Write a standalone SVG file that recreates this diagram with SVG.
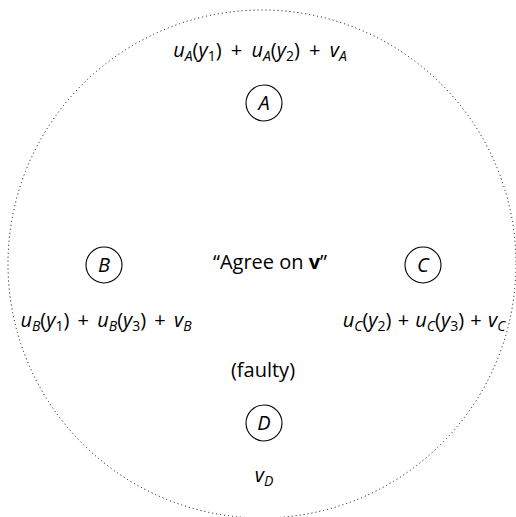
<svg xmlns="http://www.w3.org/2000/svg" width="516" height="517" viewBox="0 0 516 517">
<style>
.n{fill:none;stroke:#000;stroke-width:1.1}
.t{font-family:"Open Sans","DejaVu Sans",sans-serif;font-size:20px;fill:#000;white-space:pre}
.i{font-style:italic}
.s{font-size:14px}
</style>
<rect width="516" height="517" fill="#fff"/>
<g id="boundary">
<circle cx="262" cy="264" r="254" fill="none" stroke="#000" stroke-width="1" stroke-dasharray="1 3"/>
</g>
<g id="connectors"></g>
<g id="A">
<circle class="n" cx="264" cy="103" r="18"/>
<text class="t i" x="264" y="110" text-anchor="middle">A</text>
<text class="t" x="260" y="57" text-anchor="middle"><tspan class="i">u</tspan><tspan class="i s" dy="4">A</tspan><tspan dy="-4">(</tspan><tspan class="i">y</tspan><tspan class="s" dy="4">1</tspan><tspan dy="-4">) </tspan><tspan dx="4">+ </tspan><tspan class="i" dx="4">u</tspan><tspan class="i s" dy="4">A</tspan><tspan dy="-4">(</tspan><tspan class="i">y</tspan><tspan class="s" dy="4">2</tspan><tspan dy="-4">) </tspan><tspan dx="4">+ </tspan><tspan class="i" dx="4">v</tspan><tspan class="i s" dy="4">A</tspan></text>
</g>
<g id="B">
<circle class="n" cx="104" cy="265" r="18"/>
<text class="t i" x="104" y="272" text-anchor="middle">B</text>
<text class="t" x="106" y="327" text-anchor="middle"><tspan class="i">u</tspan><tspan class="i s" dy="4">B</tspan><tspan dy="-4">(</tspan><tspan class="i">y</tspan><tspan class="s" dy="4">1</tspan><tspan dy="-4">) </tspan><tspan dx="3">+ </tspan><tspan class="i" dx="3">u</tspan><tspan class="i s" dy="4">B</tspan><tspan dy="-4">(</tspan><tspan class="i">y</tspan><tspan class="s" dy="4">3</tspan><tspan dy="-4">) </tspan><tspan dx="3">+ </tspan><tspan class="i" dx="3">v</tspan><tspan class="i s" dy="4">B</tspan></text>
</g>
<g id="C">
<circle class="n" cx="423" cy="265" r="18"/>
<text class="t i" x="423" y="272" text-anchor="middle">C</text>
<text class="t" x="424" y="327" text-anchor="middle"><tspan class="i">u</tspan><tspan class="i s" dy="4">C</tspan><tspan dy="-4">(</tspan><tspan class="i">y</tspan><tspan class="s" dy="4">2</tspan><tspan dy="-4">) </tspan><tspan dx="1">+ </tspan><tspan class="i" dx="1">u</tspan><tspan class="i s" dy="4">C</tspan><tspan dy="-4">(</tspan><tspan class="i">y</tspan><tspan class="s" dy="4">3</tspan><tspan dy="-4">) </tspan><tspan dx="1">+ </tspan><tspan class="i" dx="1">v</tspan><tspan class="i s" dy="4">C</tspan></text>
</g>
<g id="D">
<circle class="n" cx="264" cy="423" r="18"/>
<text class="t i" x="264" y="430" text-anchor="middle">D</text>
<text class="t" x="263" y="377" text-anchor="middle">(faulty)</text>
<text class="t" x="264" y="482" text-anchor="middle"><tspan class="i">v</tspan><tspan class="i s" dy="4">D</tspan></text>
</g>
<g id="center">
<text class="t" x="270" y="269" text-anchor="middle">“Agree on <tspan font-weight="bold">v</tspan>”</text>
</g>
</svg>
